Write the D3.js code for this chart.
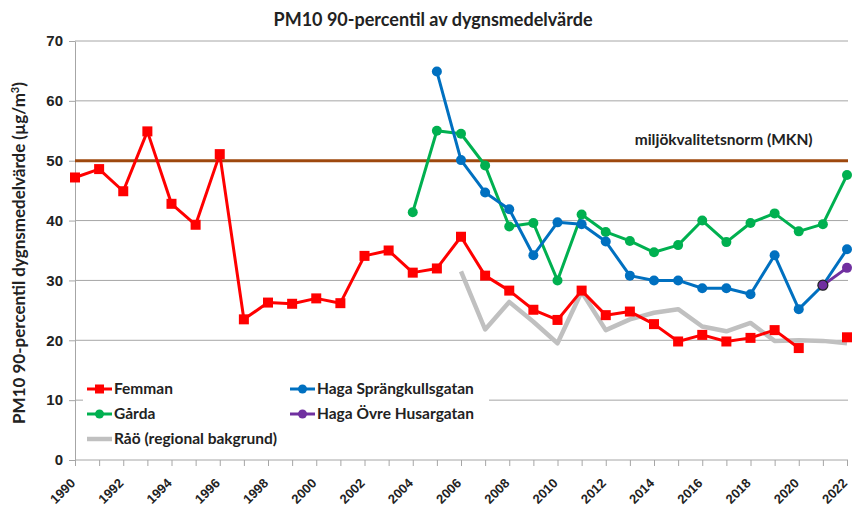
<!DOCTYPE html>
<html>
<head>
<meta charset="utf-8">
<script src="https://cdn.jsdelivr.net/npm/d3@7"></script>
<style>
  body { margin: 0; background: #fff; }
  svg { font-family: Lato, "Open Sans", sans-serif; }
</style>
</head>
<body>
<svg id="chart"></svg>
<script>
// years and series values (null = no measurement)
const years = d3.range(1990, 2023);
const femman = [47.2, 48.6, 44.9, 54.9, 42.8, 39.3, 51.1, 23.5, 26.3, 26.1, 27.0, 26.2,
  34.1, 35.0, 31.3, 32.0, 37.3, 30.8, 28.3, 25.1, 23.4, 28.3, 24.2, 24.8, 22.7, 19.8,
  20.9, 19.8, 20.4, 21.7, 18.7, null, 20.5];
const garda = [null, null, null, null, null, null, null, null, null, null, null, null, null, null,
  41.4, 55.0, 54.5, 49.2, 39.0, 39.6, 30.0, 41.0, 38.1, 36.6, 34.7, 35.9, 40.0, 36.4,
  39.6, 41.2, 38.2, 39.4, 47.6];
const hagaSpr = [null, null, null, null, null, null, null, null, null, null, null, null, null, null,
  null, 64.9, 50.1, 44.7, 41.9, 34.2, 39.7, 39.4, 36.5, 30.8, 30.0, 30.0, 28.7, 28.7,
  27.7, 34.2, 25.2, 29.2, 35.2];
const hagaOvre = [null, null, null, null, null, null, null, null, null, null, null, null, null, null,
  null, null, null, null, null, null, null, null, null, null, null, null, null, null,
  null, null, null, 29.2, 32.1];
const rao = [null, null, null, null, null, null, null, null, null, null, null, null, null, null,
  null, null, 31.5, 21.8, 26.4, 23.1, 19.5, 28.1, 21.7, 23.5, 24.6, 25.2, 22.3, 21.5,
  22.9, 19.9, 20.0, 19.9, 19.5];
const mkn = 50;
const yTicks = [0, 10, 20, 30, 40, 50, 60, 70];
const xTicks = d3.range(1990, 2023, 2);

const W = 853, H = 508;
const margin = {top: 41, right: 6, bottom: 48, left: 75};
const width = W - margin.left - margin.right;
const height = H - margin.top - margin.bottom;

const svg = d3.select('#chart').attr('width', W).attr('height', H);
const chart = svg.append('g')
    .attr('transform', `translate(${margin.left},${margin.top})`);

const xScale = d3.scaleLinear().domain([1990, 2022]).range([0, 772]);
const yScale = d3.scaleLinear().domain([0, 70]).range([height, 0]);

// gridlines
chart.append('g')
  .selectAll('line')
  .data(yTicks.filter(d => d > 0))
  .join('line')
    .attr('x1', 0).attr('x2', 773)
    .attr('y1', d => yScale(d)).attr('y2', d => yScale(d))
    .attr('stroke', '#a6a6a6').attr('stroke-width', 1);

// y axis
const yAxisG = chart.append('g')
    .call(d3.axisLeft(yScale).tickValues(yTicks).tickSize(6).tickPadding(6).tickSizeOuter(0));
yAxisG.select('.domain').attr('stroke', '#a6a6a6');
yAxisG.selectAll('.tick line').attr('stroke', '#a6a6a6');
yAxisG.selectAll('.tick text')
    .attr('font-size', 15).attr('font-weight', 'bold').attr('fill', '#222');

// x axis
const xAxisG = chart.append('g')
    .attr('transform', `translate(0,${height})`)
    .call(d3.axisBottom(xScale).tickValues(years).tickSize(6).tickFormat('').tickSizeOuter(0));
xAxisG.select('.domain').attr('stroke', '#a6a6a6').attr('d', 'M0,0H773');
xAxisG.selectAll('.tick line').attr('stroke', '#a6a6a6');
xAxisG.selectAll('.xlab')
  .data(xTicks)
  .join('text')
    .attr('class', 'xlab')
    .attr('transform', d => `translate(${xScale(d) + 1},${24}) rotate(-45)`)
    .attr('text-anchor', 'end')
    .attr('font-size', 13).attr('font-weight', 'bold').attr('fill', '#222')
    .text(d => d);

// MKN line
chart.append('line')
    .attr('x1', 0).attr('x2', 773)
    .attr('y1', yScale(mkn)).attr('y2', yScale(mkn))
    .attr('stroke', '#9e480e').attr('stroke-width', 3);
chart.append('text')
    .attr('x', xScale(2013.2)).attr('y', yScale(mkn) - 16)
    .attr('font-size', 15.5).attr('font-weight', 'bold').attr('fill', '#222')
    .text('miljökvalitetsnorm (MKN)');

const line = d3.line()
    .defined(d => d.v != null)
    .x(d => xScale(d.year))
    .y(d => yScale(d.v));

const series = [
  {name: 'Råö (regional bakgrund)', values: rao, color: '#c0c0c0', width: 4.5, marker: null},
  {name: 'Femman', values: femman, color: '#ff0000', width: 3, marker: 'square'},
  {name: 'Gårda', values: garda, color: '#00b050', width: 3, marker: 'circle'},
  {name: 'Haga Sprängkullsgatan', values: hagaSpr, color: '#0070c0', width: 3, marker: 'circle'},
  {name: 'Haga Övre Husargatan', values: hagaOvre, color: '#7030a0', width: 3, marker: 'circle'}
];

series.forEach(s => {
  const pts = years.map((y, i) => ({year: y, v: s.values[i]}));
  chart.append('path')
      .datum(pts)
      .attr('fill', 'none')
      .attr('stroke', s.color)
      .attr('stroke-width', s.width)
      .attr('stroke-linejoin', 'round')
      .attr('d', line);
  const valid = pts.filter(d => d.v != null);
  if (s.marker === 'square') {
    chart.selectAll(null).data(valid).join('rect')
        .attr('x', d => xScale(d.year) - 5).attr('y', d => yScale(d.v) - 5)
        .attr('width', 10).attr('height', 10)
        .attr('fill', s.color);
  } else if (s.marker === 'circle') {
    chart.selectAll(null).data(valid).join('circle')
        .attr('cx', d => xScale(d.year)).attr('cy', d => yScale(d.v))
        .attr('r', 5)
        .attr('fill', s.color)
        .attr('stroke', d => (s.name === 'Haga Övre Husargatan' && d.year === 2021) ? '#222' : 'none')
        .attr('stroke-width', 1.2);
  }
});

// legend
const legend = svg.append('g');
legend.append('rect')
    .attr('x', 83).attr('y', 377).attr('width', 406).attr('height', 72)
    .attr('fill', '#fff');
const legItems = [
  {s: series[1], x: 87, y: 389},
  {s: series[3], x: 290, y: 389},
  {s: series[2], x: 87, y: 414},
  {s: series[4], x: 290, y: 414},
  {s: series[0], x: 87, y: 439}
];
legItems.forEach(it => {
  const g = legend.append('g').attr('transform', `translate(${it.x},${it.y})`);
  g.append('line').attr('x1', 0).attr('x2', 25).attr('y1', 0).attr('y2', 0)
      .attr('stroke', it.s.color).attr('stroke-width', it.s.width);
  if (it.s.marker === 'square') {
    g.append('rect').attr('x', 8).attr('y', -4.5).attr('width', 9).attr('height', 9).attr('fill', it.s.color);
  } else if (it.s.marker === 'circle') {
    g.append('circle').attr('cx', 12.5).attr('cy', 0).attr('r', 4.5).attr('fill', it.s.color);
  }
  g.append('text').attr('x', 27).attr('y', 0).attr('dy', '0.35em')
      .attr('font-size', 15.5).attr('font-weight', 'bold').attr('fill', '#222')
      .text(it.s.name);
});

// titles
svg.append('text')
    .attr('x', 433).attr('y', 26)
    .attr('text-anchor', 'middle')
    .attr('font-size', 18).attr('font-weight', 'bold').attr('fill', '#222')
    .text('PM10 90-percentil av dygnsmedelvärde');

const yTitle = svg.append('text')
    .attr('transform', `translate(25,253) rotate(-90)`)
    .attr('text-anchor', 'middle')
    .attr('font-size', 17).attr('font-weight', 'bold').attr('fill', '#222');
yTitle.append('tspan').text('PM10 90-percentil dygnsmedelvärde (µg/m');
yTitle.append('tspan').attr('baseline-shift', 'super').attr('font-size', 11).text('3');
yTitle.append('tspan').text(')');
</script>
</body>
</html>
